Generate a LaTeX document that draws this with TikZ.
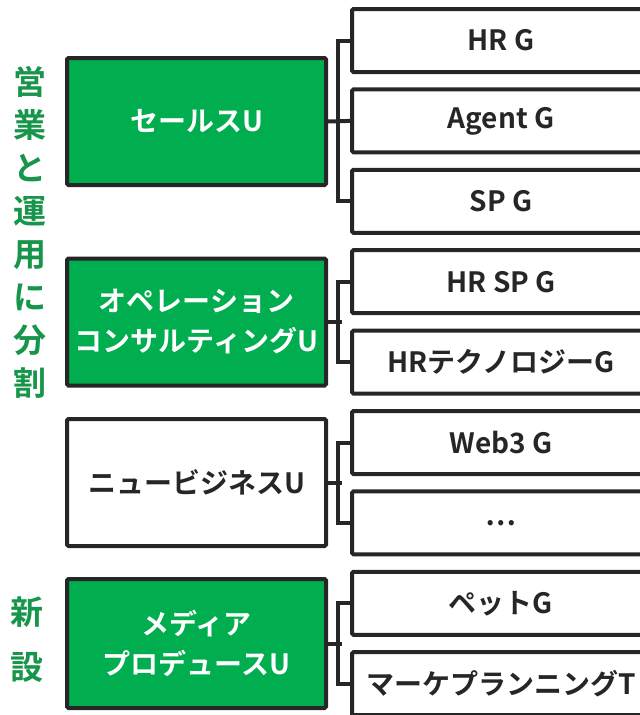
\documentclass[tikz,border=0pt]{standalone}
\usepackage{fontspec}
\setmainfont{Noto Sans CJK JP}[BoldFont={Noto Sans CJK JP Bold}]
\definecolor{unitgreen}{HTML}{00AD4F}
\definecolor{labelgreen}{HTML}{17954A}
\definecolor{ink}{HTML}{262626}

\tikzset{
  unit/.style={draw=ink,line width=4pt,rounded corners=1.5pt,
    minimum width=259pt,minimum height=127pt,inner sep=0pt,align=center,
    font=\bfseries\fontsize{28}{40}\selectfont},
  greenunit/.style={unit,fill=unitgreen,text=white},
  whiteunit/.style={unit,fill=white,text=ink},
  group/.style={draw=ink,line width=4pt,fill=white,text=ink,rounded corners=1.5pt,
    minimum width=298pt,minimum height=63pt,inner sep=0pt,
    font=\bfseries\fontsize{28}{40}\selectfont},
  link/.style={draw=ink,line width=4pt},
  sidelabel/.style={text=labelgreen,align=center,inner sep=0pt},
}

\begin{document}
\begin{tikzpicture}[x=1pt,y=-1pt]
\path[use as bounding box,clip] (0,0) rectangle (640,715);

% units
\node (sales) at (196.5,121.5) [greenunit] {セールスU};
\node (ops) at (196.5,322) [greenunit] {オペレーション\\コンサルティングU};
\node (newbiz) at (196.5,482.5) [whiteunit] {ニュービジネスU};
\node (media) at (196.5,643.5) [greenunit,minimum height=129pt] {メディア\\プロデュースU};

% groups
\node (hr) at (501,40.5) [group] {HR G};
\node (agent) at (501,120.9) [group] {Agent G};
\node (sp) at (501,201.3) [group] {SP G};
\node (hrsp) at (501,281.7) [group] {HR SP G};
\node (hrtech) at (501,362.1) [group] {HRテクノロジーG};
\node (web) at (501,442.5) [group] {Web3 G};
\node (more) at (501,522.9) [group] {…};
\node (pet) at (501,603.3) [group] {ペットG};
\node (mkt) at (501,683.7) [group] {マーケプランニングT};

% brackets
\draw[link] (hr.west) -- ++(-12,0) |- (sp.west);
\draw[link] (agent.west) -- (sales.east);
\draw[link] (hrsp.west) -- ++(-12,0) |- (hrtech.west);
\draw[link] (ops.east) -- ++(14,0);
\draw[link] (web.west) -- ++(-12,0) |- (more.west);
\draw[link] (newbiz.east) -- ++(14,0);
\draw[link] (pet.west) -- ++(-12,0) |- (mkt.west);
\draw[link] (media.east) -- ++(14,0);

% side labels
\node (split) at (30,232) [sidelabel,font=\bfseries\fontsize{33}{43}\selectfont]
  {営\\業\\と\\運\\用\\に\\分\\割};
\node (fresh) at (27,640) [sidelabel,font=\bfseries\fontsize{33}{55}\selectfont]
  {新\\設};
\end{tikzpicture}
\end{document}
